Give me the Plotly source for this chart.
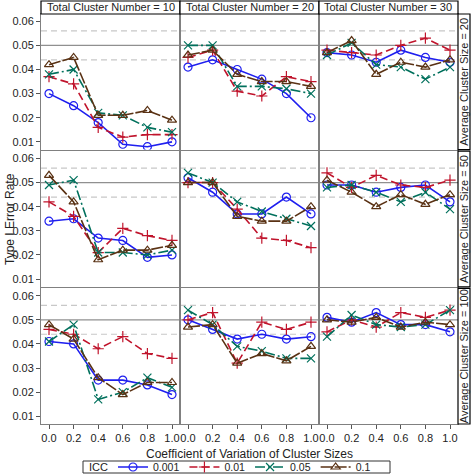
import plotly.graph_objects as go
from plotly.subplots import make_subplots

cv_values = [0.0, 0.2, 0.4, 0.6, 0.8, 1.0]
cv_labels = ["0.0", "0.2", "0.4", "0.6", "0.8", "1.0"]
cluster_numbers = [10, 20, 30]
cluster_sizes = [20, 50, 100]
icc_levels = ["0.001", "0.01", "0.05", "0.1"]
y_ticks = [0.01, 0.02, 0.03, 0.04, 0.05, 0.06]
nominal_rate = 0.05
bound_rates = [0.044, 0.056]

# panel order: (size20: N10, N20, N30), (size50: ...), (size100: ...)
icc_0001 = [
    [0.030, 0.025, 0.018, 0.009, 0.008, 0.010],
    [0.041, 0.044, 0.040, 0.036, 0.030, 0.020],
    [0.047, 0.046, 0.043, 0.048, 0.045, 0.043],
    [0.034, 0.035, 0.027, 0.026, 0.019, 0.020],
    [0.052, 0.046, 0.037, 0.037, 0.044, 0.037],
    [0.049, 0.049, 0.046, 0.048, 0.049, 0.042],
    [0.041, 0.040, 0.025, 0.025, 0.023, 0.019],
    [0.050, 0.046, 0.042, 0.044, 0.042, 0.043],
    [0.051, 0.049, 0.053, 0.048, 0.048, 0.045],
]
icc_001 = [
    [0.037, 0.034, 0.016, 0.012, 0.013, 0.013],
    [0.045, 0.048, 0.031, 0.029, 0.037, 0.035],
    [0.048, 0.047, 0.046, 0.050, 0.053, 0.048],
    [0.042, 0.036, 0.021, 0.031, 0.028, 0.026],
    [0.050, 0.050, 0.039, 0.027, 0.026, 0.023],
    [0.054, 0.048, 0.053, 0.049, 0.048, 0.051],
    [0.046, 0.044, 0.038, 0.043, 0.036, 0.034],
    [0.050, 0.053, 0.032, 0.049, 0.046, 0.049],
    [0.045, 0.050, 0.047, 0.053, 0.051, 0.054],
]
icc_005 = [
    [0.038, 0.040, 0.022, 0.021, 0.016, 0.014],
    [0.050, 0.050, 0.033, 0.033, 0.032, 0.030],
    [0.046, 0.051, 0.042, 0.041, 0.036, 0.041],
    [0.049, 0.051, 0.021, 0.021, 0.020, 0.022],
    [0.054, 0.050, 0.042, 0.038, 0.035, 0.032],
    [0.048, 0.049, 0.046, 0.042, 0.046, 0.039],
    [0.041, 0.048, 0.017, 0.020, 0.026, 0.022],
    [0.054, 0.048, 0.039, 0.037, 0.034, 0.034],
    [0.043, 0.052, 0.048, 0.047, 0.048, 0.054],
]
icc_01 = [
    [0.042, 0.045, 0.021, 0.021, 0.023, 0.019],
    [0.046, 0.048, 0.038, 0.035, 0.035, 0.033],
    [0.047, 0.052, 0.038, 0.043, 0.041, 0.044],
    [0.053, 0.042, 0.018, 0.022, 0.022, 0.024],
    [0.050, 0.050, 0.036, 0.034, 0.034, 0.040],
    [0.051, 0.046, 0.040, 0.045, 0.041, 0.045],
    [0.048, 0.042, 0.026, 0.019, 0.024, 0.024],
    [0.047, 0.048, 0.032, 0.036, 0.033, 0.039],
    [0.050, 0.049, 0.051, 0.047, 0.049, 0.048],
]
series_data = [icc_0001, icc_001, icc_005, icc_01]

styles = [
    dict(color="#1f1fef", dash="solid", symbol="circle-open"),
    dict(color="#c0142c", dash="8px,4px", symbol="cross-thin-open"),
    dict(color="#00705c", dash="10px,3px,2px,3px", symbol="x-thin-open"),
    dict(color="#5a3214", dash="12px,2px", symbol="triangle-up-open"),
]

W, H = 472, 475
ml, mr, mt, mb = 41, 14, 14, 51
pw = W - ml - mr
ph = H - mt - mb

def px_x(p):
    return (p - ml) / pw

def px_y(p):
    return (H - mb - p) / ph

fig = make_subplots(rows=3, cols=3, shared_xaxes=True, shared_yaxes=True,
                    horizontal_spacing=0.0, vertical_spacing=0.004)

for s, (name, data, st) in enumerate(zip(icc_levels, series_data, styles)):
    for p in range(9):
        r, c = p // 3 + 1, p % 3 + 1
        fig.add_trace(go.Scatter(
            x=cv_values, y=data[p], mode="lines+markers", name=name,
            legendgroup=name, showlegend=(p == 0),
            line=dict(color=st["color"], width=1.6, dash=st["dash"]),
            marker=dict(symbol=st["symbol"], size=8, color=st["color"],
                        line=dict(width=1.2, color=st["color"])),
        ), row=r, col=c)

for r in range(1, 4):
    for c in range(1, 4):
        for b in bound_rates:
            fig.add_hline(y=b, line=dict(color="#c8c8c8", width=1.2, dash="6px,4px"),
                          row=r, col=c, layer="below")
        fig.add_hline(y=nominal_rate, line=dict(color="#909090", width=1.2),
                      row=r, col=c, layer="below")

axis_font = dict(family="Liberation Sans, Arial", size=11, color="#222")
legend_font = dict(family="Liberation Sans, Arial", size=10.5, color="#222")
fig.update_xaxes(range=[-0.065, 1.065], tickvals=cv_values, ticktext=cv_labels,
                 ticks="outside", ticklen=4, tickcolor="#555", showgrid=False,
                 zeroline=False, showline=True, mirror=True, linecolor="#808080",
                 linewidth=1, tickfont=axis_font)
fig.update_yaxes(range=[0.0068, 0.0630], tickvals=y_ticks,
                 ticktext=[f"{v:.2f}" for v in y_ticks],
                 ticks="outside", ticklen=4, tickcolor="#555", showgrid=False,
                 zeroline=False, showline=True, mirror=True, linecolor="#808080",
                 linewidth=1, tickfont=axis_font)
for c in (2, 3):
    for r in (1, 2, 3):
        fig.update_yaxes(ticks="", row=r, col=c)
for r in (1, 2):
    for c in (1, 2, 3):
        fig.update_xaxes(ticks="", row=r, col=c)

shapes = []
annotations = []
strip_h = 13 / ph
strip_w = 12 / pw
for i, n in enumerate(cluster_numbers):
    x0, x1 = i / 3, (i + 1) / 3
    shapes.append(dict(type="rect", xref="paper", yref="paper", x0=x0, x1=x1,
                       y0=1.0, y1=1.0 + strip_h, line=dict(color="black", width=1.2),
                       fillcolor="white"))
    annotations.append(dict(xref="paper", yref="paper", x=(x0 + x1) / 2,
                            y=1.0 + strip_h / 2, text=f"Total Cluster Number = {n}",
                            showarrow=False, font=axis_font, xanchor="center",
                            yanchor="middle", borderpad=0))
row_domains = [fig.layout.yaxis.domain, fig.layout.yaxis4.domain, fig.layout.yaxis7.domain]
for i, sz in enumerate(cluster_sizes):
    y0, y1 = row_domains[i]
    shapes.append(dict(type="rect", xref="paper", yref="paper", x0=1.0, x1=1.0 + strip_w,
                       y0=y0, y1=y1, line=dict(color="black", width=1.2),
                       fillcolor="white"))
    annotations.append(dict(xref="paper", yref="paper", x=1.0 + strip_w / 2,
                            y=(y0 + y1) / 2, text=f"Average Cluster Size = {sz}",
                            showarrow=False, font=axis_font, textangle=-90,
                            xanchor="center", yanchor="middle", borderpad=0))

# legend frame and title
shapes.append(dict(type="rect", xref="paper", yref="paper",
                   x0=px_x(83), x1=px_x(390), y0=px_y(473), y1=px_y(461),
                   line=dict(color="#333", width=1), fillcolor="rgba(0,0,0,0)"))
annotations.append(dict(xref="paper", yref="paper", x=px_x(88), y=px_y(467),
                        text="ICC", showarrow=False, font=axis_font,
                        xanchor="left", yanchor="middle", borderpad=0))

annotations.append(dict(xref="paper", yref="paper", x=0.5, y=px_y(454),
                        text="Coefficient of Variation of Cluster Sizes",
                        showarrow=False, font=dict(family="Liberation Sans, Arial",
                                                   size=12, color="#222"),
                        xanchor="center", yanchor="middle"))
annotations.append(dict(xref="paper", yref="paper", x=px_x(10), y=0.5,
                        text="Type I Error Rate", showarrow=False, textangle=-90,
                        font=dict(family="Liberation Sans, Arial", size=12, color="#222"),
                        xanchor="center", yanchor="middle"))

fig.update_layout(
    width=W, height=H, margin=dict(l=ml, r=mr, t=mt, b=mb, autoexpand=False),
    plot_bgcolor="white", paper_bgcolor="white",
    shapes=list(fig.layout.shapes) + shapes,
    annotations=annotations,
    legend=dict(orientation="h", x=px_x(113), xanchor="left",
                y=px_y(467), yanchor="middle", valign="middle",
                font=legend_font, borderwidth=0,
                bgcolor="rgba(0,0,0,0)", itemwidth=30, tracegroupgap=0,
                entrywidth=0),
    font=axis_font,
)

fig.write_html("out.html", config={"displayModeBar": False},
               post_script="document.body.style.margin='0';")
